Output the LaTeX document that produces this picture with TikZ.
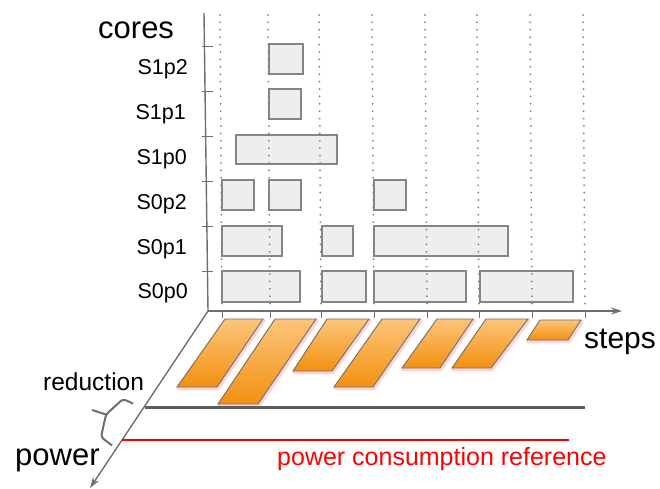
\documentclass[tikz,border=0pt]{standalone}
\usepackage{fontspec}
\setmainfont{Liberation Sans}
\usetikzlibrary{arrows.meta}
\definecolor{axisgray}{HTML}{6E6E6E}
\definecolor{boxfill}{HTML}{EEEEEE}
\definecolor{boxline}{HTML}{858585}
\definecolor{dotgray}{HTML}{808080}
\definecolor{orlight}{HTML}{FCC57A}
\definecolor{ordark}{HTML}{F39010}
\definecolor{glow}{HTML}{FF8080}
\definecolor{darkline}{HTML}{5E5E5E}
\begin{document}
\begin{tikzpicture}[x=1pt,y=-1pt,
  axis/.style={draw=axisgray,line width=1.4pt},
  tickline/.style={draw=axisgray,line width=1pt},
  dotline/.style={draw=dotgray,line width=2pt,line cap=round,dash pattern=on 0pt off 7.4pt},
  taskbox/.style={draw=boxline,fill=boxfill,line width=1.1pt},
  phase/.style={draw=axisgray,line width=0.9pt,top color=orlight,bottom color=ordark},
  glowline/.style={draw=glow,line width=3.5pt,opacity=0.35,line join=round},
  bracepath/.style={draw=axisgray,line width=2pt,rounded corners=3pt},
  rowlab/.style={anchor=base east,inner sep=0pt,font=\fontsize{21.5}{21.5}\selectfont},
  biglab/.style={anchor=base west,inner sep=0pt,font=\fontsize{31}{31}\selectfont}]
\useasboundingbox (0,0) rectangle (660,488);

% axes coordinates
\coordinate (origin) at (208,311);
\coordinate (ytop) at (204,13);
\coordinate (xend) at (622,311);
\coordinate (zend) at (90,488);

% task boxes
\draw[taskbox] (269,44) rectangle (303,74);
\draw[taskbox] (269,89) rectangle (301,119);
\draw[taskbox] (236,135) rectangle (337,164);
\draw[taskbox] (222,180) rectangle (254,210);
\draw[taskbox] (269,180) rectangle (301,210);
\draw[taskbox] (374,180) rectangle (406,210);
\draw[taskbox] (222,226) rectangle (282,256);
\draw[taskbox] (322,226) rectangle (353,256);
\draw[taskbox] (374,226) rectangle (508,256);
\draw[taskbox] (222,271) rectangle (300,302);
\draw[taskbox] (322,271) rectangle (366,302);
\draw[taskbox] (374,271) rectangle (466,302);
\draw[taskbox] (480,271) rectangle (573,302);

% dotted step lines and step ticks
\foreach \b in {222,270,321,374,427,479,532,585}{
  \draw[dotline] (\b-2,15) -- (\b,309);
  \draw[tickline] (\b,311) -- (\b,318);
}
% core ticks
\foreach \t in {46,91,136,181,226,271}{
  \draw[tickline] (202,\t) -- (213,\t);
}

% axes
\draw[axis] (ytop) -- (origin);
\draw[axis,-{Stealth[length=11pt,width=7pt]}] (origin) -- (xend);
\draw[axis,-{Stealth[length=11pt,width=7pt]}] (origin) -- (zend);

% phases (orange)
\foreach \p in {
  {(225,319) -- (263,319) -- (217,387) -- (177,387) -- cycle},
  {(275,319) -- (316,319) -- (258,404) -- (218,404) -- cycle},
  {(327,319) -- (369,319) -- (332,371) -- (293,371) -- cycle},
  {(382,319) -- (420,319) -- (373,387) -- (334,387) -- cycle},
  {(437,319) -- (473,319) -- (440,368) -- (402,368) -- cycle},
  {(486,319) -- (528,319) -- (491,368) -- (452,368) -- cycle},
  {(540,320) -- (581,320) -- (568,340) -- (527,340) -- cycle}}{
  \draw[glowline,shift={(1,1.5)}] \p;
  \draw[phase] \p;
}

% power lines
\coordinate (gA) at (145,407);
\coordinate (gB) at (585,407);
\coordinate (rA) at (122,440);
\coordinate (rB) at (569,440);
\draw[draw=darkline,line width=3pt] (gA) -- (gB);
\draw[draw=red,line width=2.2pt] (rA) -- (rB);

% brace
\coordinate (brA) at (133,403.5);
\coordinate (brB) at (123,399);
\coordinate (brC) at (106,414.5);
\coordinate (brD) at (92,410);
\coordinate (brE) at (101,437);
\coordinate (brF) at (112,445.5);
\draw[bracepath] (brA) -- (brB) -- (brC) -- (brE) -- (brF);
\draw[bracepath] (brD) -- (brC);

% labels
\node[biglab] (cores) at (98,38) {cores};
\node[rowlab] (s1p2) at (188,74) {S1p2};
\node[rowlab] (s1p1) at (186,119) {S1p1};
\node[rowlab] (s1p0) at (187,164) {S1p0};
\node[rowlab] (s0p2) at (187,209) {S0p2};
\node[rowlab] (s0p1) at (187,254) {S0p1};
\node[rowlab] (s0p0) at (188,298) {S0p0};
\node[anchor=base west,inner sep=0pt,font=\fontsize{30}{30}\selectfont] (steps) at (584,348) {steps};
\node[biglab] (power) at (15,465) {power};
\node[anchor=base west,inner sep=0pt,font=\fontsize{24.5}{24.5}\selectfont] (red) at (43,390) {reduction};
\node[anchor=base west,inner sep=0pt,text=red,font=\fontsize{25}{25}\selectfont] (pcr) at (277,465) {power consumption reference};
\end{tikzpicture}
\end{document}
